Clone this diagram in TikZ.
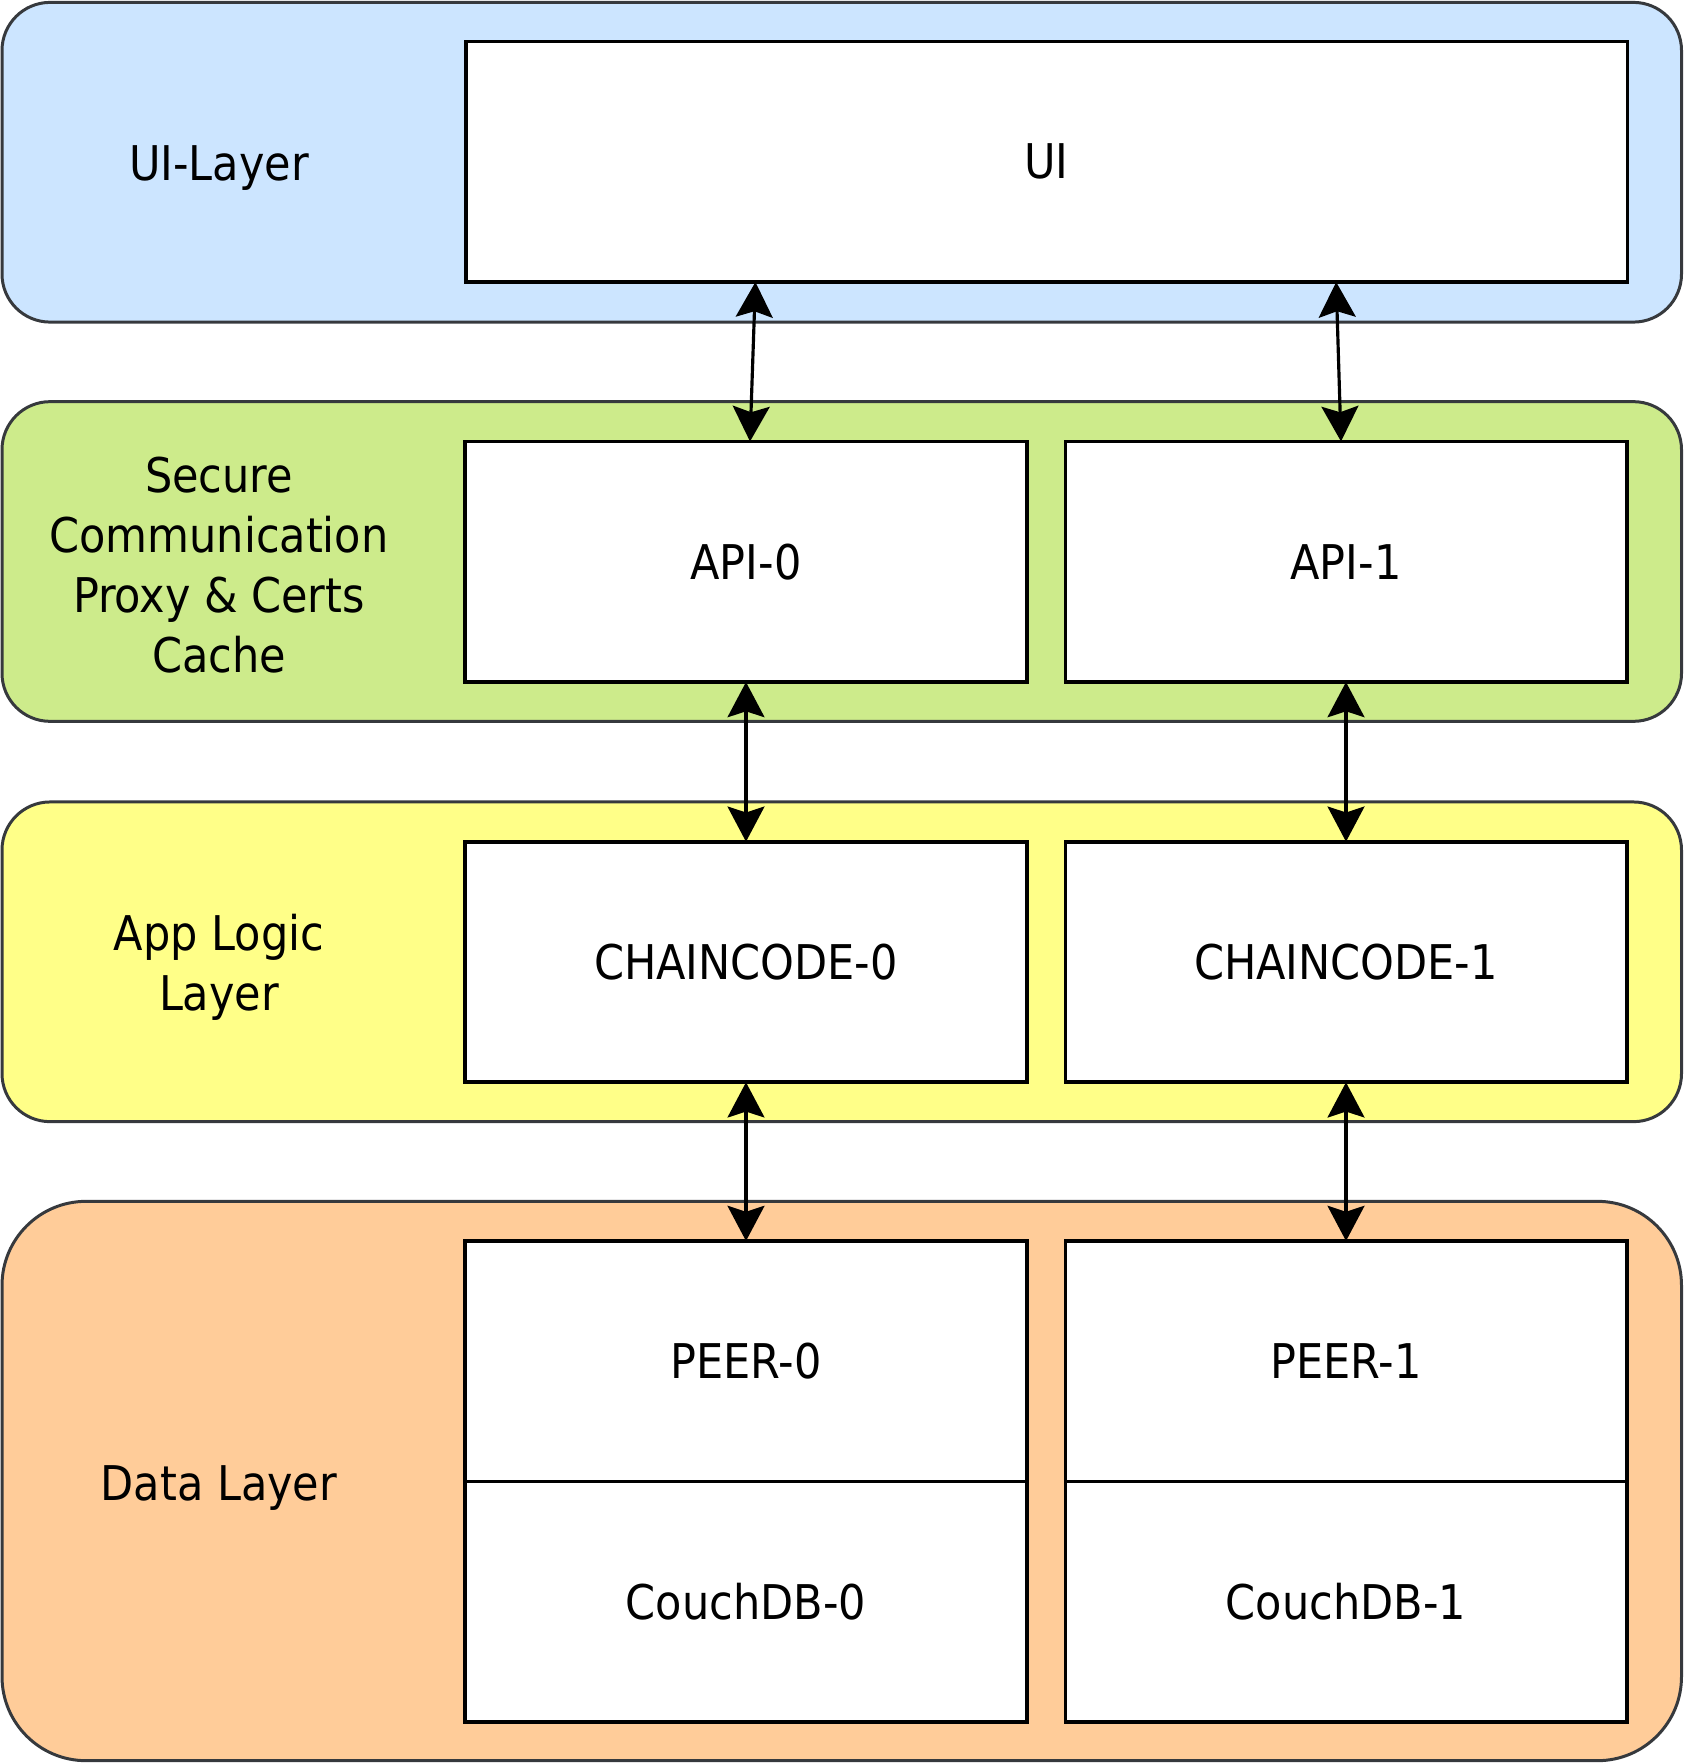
\documentclass[tikz,border=0pt]{standalone}
\usepackage{fontspec}
\setmainfont{DejaVu Sans Condensed}
\usepackage{xcolor}
\usetikzlibrary{arrows.meta}
\definecolor{uiblue}{HTML}{CCE5FF}
\definecolor{secgreen}{HTML}{CDEB8B}
\definecolor{appyellow}{HTML}{FFFF88}
\definecolor{dataorange}{HTML}{FFCC99}
\definecolor{layerline}{HTML}{36393D}
\begin{document}
\begin{tikzpicture}[x = 0.01cm, y = -0.01cm,
  layer/.style = {draw=layerline, line width=0.85pt, rounded corners=0.48cm,
    minimum width=16.785cm, minimum height=3.195cm, inner sep=0pt, outer sep=0pt},
  box/.style = {draw=black, fill=white, line width=1.05pt, minimum width=5.61cm,
    minimum height=2.405cm, inner sep=0pt, outer sep=0pt},
  tag/.style = {align=center},
  link/.style = {line width=0.9pt, {Stealth[length=10pt,width=10.5pt,inset=1.7pt]}-{Stealth[length=10pt,width=10.5pt,inset=1.7pt]}}]
\useasboundingbox (0,0) rectangle (1684,1764);
\fontsize{13.6}{17}\selectfont
%
\node[layer, fill=uiblue] (uilayer) at (841.75,162.25) {};
\node[layer, fill=secgreen] (seclayer) at (841.75,561.5) {};
\node[layer, fill=appyellow] (applayer) at (841.75,961.8) {};
\node[layer, fill=dataorange, rounded corners=0.84cm, minimum height=5.59cm] (datalayer) at (841.75,1481) {};
%
\node[tag] (uitag) at (219,167.8) {UI-Layer};
\node[tag] (sectag) at (219,565) {Secure\\Communication\\Proxy \& Certs\\Cache};
\node[tag] (apptag) at (219,967.4) {App Logic\\Layer};
\node[tag] (datatag) at (219,1487.7) {Data Layer};
%
\node[box, minimum width=11.61cm, minimum height=2.404cm] (ui) at (1046.5,161.8) {UI};
\node[box] (api0) at (746,561.75) {API-0};
\node[box] (api1) at (1346,561.75) {API-1};
\node[box] (cc0) at (746,962) {CHAINCODE-0};
\node[box] (cc1) at (1346,962) {CHAINCODE-1};
\node[box] (peer0) at (746,1361.3) {PEER-0};
\node[box] (peer1) at (1346,1361.3) {PEER-1};
\node[box] (db0) at (746,1601.8) {CouchDB-0};
\node[box] (db1) at (1346,1601.8) {CouchDB-1};
%
\draw[link] ([xshift=-2.909cm]ui.south) -- ([xshift=0.04cm]api0.north);
\draw[link] ([xshift=2.895cm]ui.south) -- ([xshift=-0.05cm]api1.north);
\draw[link] (api0) -- (cc0);
\draw[link] (api1) -- (cc1);
\draw[link] (cc0) -- (peer0);
\draw[link] (cc1) -- (peer1);
\end{tikzpicture}
\end{document}
